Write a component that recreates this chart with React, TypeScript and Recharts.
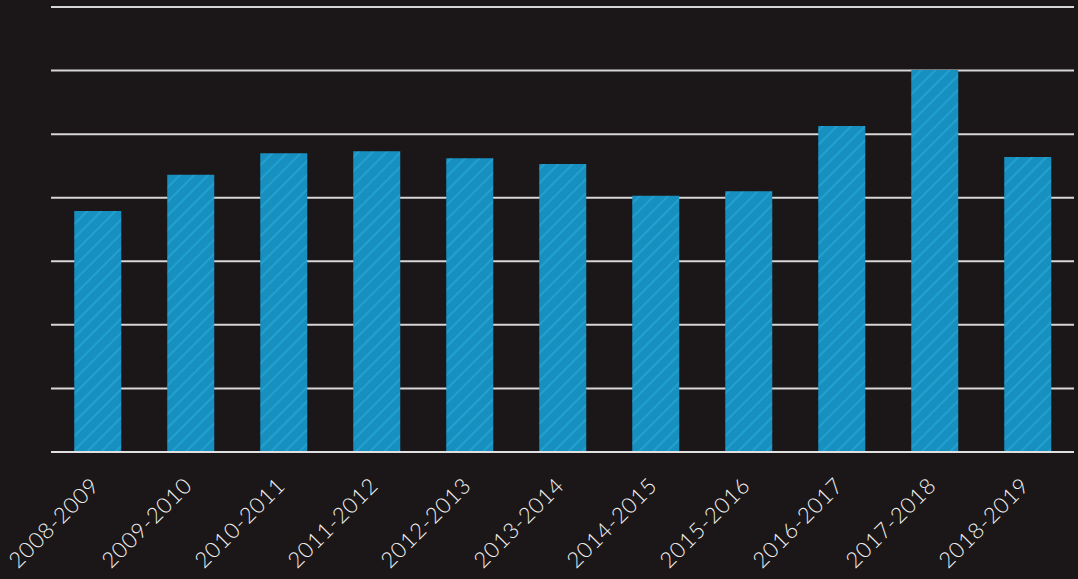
import React from 'react';
import { BarChart, Bar, XAxis, YAxis, CartesianGrid } from 'recharts';

const seasons = [
  '2008-2009', '2009-2010', '2010-2011', '2011-2012', '2012-2013', '2013-2014',
  '2014-2015', '2015-2016', '2016-2017', '2017-2018', '2018-2019',
];
const amounts = [3.79, 4.36, 4.7, 4.73, 4.62, 4.53, 4.03, 4.1, 5.13, 6.01, 4.64];
const yTicks = [0, 1, 2, 3, 4, 5, 6, 7];

const data = seasons.map((s, i) => ({ season: s, value: amounts[i] }));

const SeasonTick = (props: any) => {
  const { x, y, payload } = props;
  const ax = x + 3;
  const ay = y + 27;
  return (
    <text
      x={ax}
      y={ay}
      transform={`rotate(-45, ${ax}, ${ay})`}
      textAnchor="end"
      fill="#f2f2f2"
      fontSize={22}
      letterSpacing={0.7}
      fontFamily="Lato, 'Open Sans', sans-serif"
      fontWeight={300}
    >
      {payload.value}
    </text>
  );
};

export default function App() {
  return (
    <div style={{ position: 'fixed', left: 0, top: 0, width: 1078, height: 579, background: '#1b1617' }}>
      <BarChart
        width={1078}
        height={579}
        data={data}
        margin={{ top: 7, right: 4, bottom: 0, left: 51 }}
        barCategoryGap="25%"
      >
        <defs>
          <pattern id="hatch" patternUnits="userSpaceOnUse" width={10} height={10} patternTransform="rotate(45)">
            <rect width={10} height={10} fill="#1790c0" />
            <line x1={0} y1={0} x2={0} y2={10} stroke="#22a0cf" strokeWidth={4} />
          </pattern>
        </defs>
        <CartesianGrid horizontal vertical={false} stroke="#d6d6d6" strokeWidth={2} />
        <YAxis hide domain={[0, 7]} ticks={yTicks} />
        <XAxis
          dataKey="season"
          axisLine={{ stroke: '#e0e0e0', strokeWidth: 2 }}
          tickLine={false}
          interval={0}
          tick={<SeasonTick />}
          height={127}
        />
        <Bar dataKey="value" fill="url(#hatch)" isAnimationActive={false} />
      </BarChart>
    </div>
  );
}
